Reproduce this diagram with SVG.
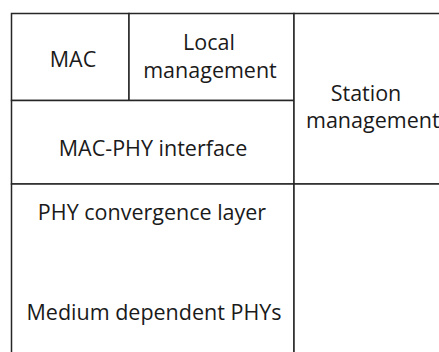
<svg xmlns="http://www.w3.org/2000/svg" width="439" height="352" viewBox="0 0 439 352">
  <style>
    .cell { fill: #ffffff; stroke: #262626; stroke-width: 1.5; }
    .lbl { font-family: "Open Sans", "Noto Sans", sans-serif; font-size: 21.5px; fill: #1a1a1a; text-anchor: middle; }
  </style>
  <rect x="0" y="0" width="439" height="352" fill="#ffffff"/>

  <g id="mac">
    <rect class="cell" x="11.5" y="13.5" width="117.5" height="87"/>
    <text class="lbl" x="73" y="67">MAC</text>
  </g>

  <g id="local-management">
    <rect class="cell" x="129" y="13.5" width="165" height="87"/>
    <text class="lbl" x="209" y="50">Local</text>
    <text class="lbl" x="210" y="78">management</text>
  </g>

  <g id="mac-phy-interface">
    <rect class="cell" x="11.5" y="100.5" width="282.5" height="83.5"/>
    <text class="lbl" x="153" y="156">MAC-PHY interface</text>
  </g>

  <g id="station-management">
    <rect class="cell" x="294" y="13.5" width="160" height="170.5"/>
    <text class="lbl" x="366" y="101">Station</text>
    <text class="lbl" x="306" y="128" style="text-anchor:start">management</text>
  </g>

  <g id="phy-stack">
    <rect class="cell" x="11.5" y="184" width="282.5" height="180"/>
    <text class="lbl" x="152" y="220">PHY convergence layer</text>
    <text class="lbl" x="154" y="320">Medium dependent PHYs</text>
  </g>

  <g id="empty-cell">
    <rect class="cell" x="294" y="184" width="160" height="180"/>
  </g>
</svg>
